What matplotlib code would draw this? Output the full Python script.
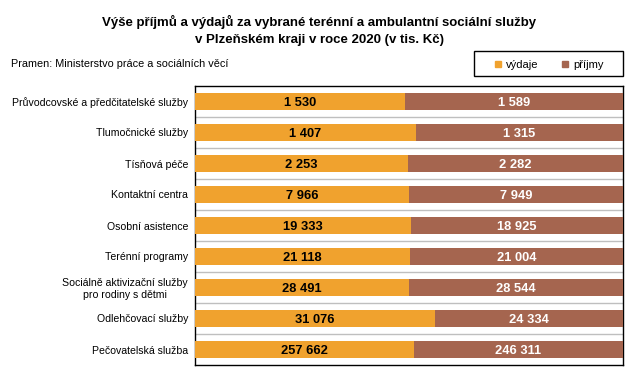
import matplotlib
matplotlib.use("Agg")
import matplotlib.pyplot as plt
from matplotlib.lines import Line2D
from matplotlib.patches import Rectangle
import numpy as np

plt.rcParams['font.family'] = ['Liberation Sans', 'DejaVu Sans']

categories = ["Průvodcovské a předčitatelské služby", "Tlumočnické služby", "Tísňová péče",
              "Kontaktní centra", "Osobní asistence", "Terénní programy",
              "Sociálně aktivizační služby\npro rodiny s dětmi", "Odlehčovací služby",
              "Pečovatelská služba"]
vydaje = [1530, 1407, 2253, 7966, 19333, 21118, 28491, 31076, 257662]
prijmy = [1589, 1315, 2282, 7949, 18925, 21004, 28544, 24334, 246311]

c_vyd = "#F0A22E"
c_pri = "#A5654F"

fig = plt.figure(figsize=(6.39, 3.80), dpi=100)
W, H = 639, 380
ax = fig.add_axes([195 / W, 1 - 365 / H, (623 - 195) / W, (365 - 86) / H])

v = np.array(vydaje, float)
p = np.array(prijmy, float)
tot = v + p
fv = v / tot
fp = p / tot
y = np.arange(len(categories))

ax.barh(y, fv, height=0.56, color=c_vyd, zorder=3)
ax.barh(y, fp, left=fv, height=0.56, color=c_pri, zorder=3)

def fmt(n):
    return f"{n:,}".replace(",", " ")

for i in range(len(categories)):
    ax.text(fv[i] / 2, y[i], fmt(vydaje[i]), ha='center', va='center_baseline',
            fontsize=9.3, fontweight='bold', color='black', zorder=4)
    ax.text(fv[i] + fp[i] / 2, y[i], fmt(prijmy[i]), ha='center', va='center_baseline',
            fontsize=9.3, fontweight='bold', color='white', zorder=4)

ax.set_xlim(0, 1)
ax.set_ylim(len(categories) - 0.5, -0.5)
for b in np.arange(0.5, len(categories) - 0.5, 1):
    ax.axhline(b, color='#BFBFBF', lw=1, zorder=1)
ax.set_xticks([])
ax.set_yticks(y)
ax.set_yticklabels(categories, fontsize=7.6, multialignment='center', linespacing=1.15)
ax.tick_params(axis='y', length=0, pad=5)
for s in ax.spines.values():
    s.set_color('black')
    s.set_linewidth(1)

fig.text(0.5, 1 - 22 / H, "Výše příjmů a výdajů za vybrané terénní a ambulantní sociální služby",
         ha='center', va='center', fontsize=9.5, fontweight='bold')
fig.text(0.5, 1 - 40 / H, "v Plzeňském kraji v roce 2020 (v tis. Kč)",
         ha='center', va='center', fontsize=9.5, fontweight='bold')
fig.text(11 / W, 1 - 64 / H, "Pramen: Ministerstvo práce a sociálních věcí", ha='left', va='center', fontsize=7.8)

# legend box
fig.patches.append(Rectangle((474 / W, 1 - 76 / H), (623 - 474) / W, 25 / H,
                             transform=fig.transFigure, fill=False, edgecolor='black', lw=1))
handles = [Line2D([], [], marker='s', ls='none', color=c_vyd, markersize=4.5),
           Line2D([], [], marker='s', ls='none', color=c_pri, markersize=4.5)]
leg = fig.legend(handles, ["výdaje", "příjmy"], loc='center',
                 bbox_to_anchor=((474 + 623) / 2 / W, 1 - 64.5 / H), ncol=2,
                 fontsize=8, frameon=False,
                 handletextpad=0.3, columnspacing=2.0, borderpad=0.2,
                 handlelength=0.8)

fig.savefig("out.png", dpi=100)
